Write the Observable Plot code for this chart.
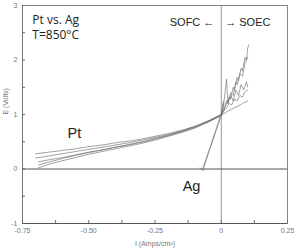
<!DOCTYPE html>
<html><head><meta charset="utf-8">
<script src="https://cdn.jsdelivr.net/npm/d3@7"></script>
<script src="https://cdn.jsdelivr.net/npm/@observablehq/plot@0.6"></script>
<style>body{margin:0;background:#fff} svg{display:block}</style>
</head><body><div id="chart"></div>
<script>
// Pt electrode I–V curves (I in A/cm², E in V)
const ptA = [[-0.70,0.28],[-0.65,0.31],[-0.60,0.34],[-0.55,0.37],[-0.50,0.41],[-0.45,0.44],[-0.40,0.48],[-0.35,0.51],[-0.30,0.55],[-0.25,0.60],[-0.20,0.65],[-0.15,0.71],[-0.10,0.78],[-0.05,0.88],[0,1.0],
  [0.01,1.08],[0.02,1.2],[0.03,1.32],[0.035,1.28],[0.045,1.5],[0.05,1.45],[0.06,1.68],[0.065,1.62],[0.075,1.85],[0.08,1.8],[0.09,2.05],[0.095,2.0],[0.1,2.22],[0.104,2.28]];
const ptB = [[-0.70,0.20],[-0.65,0.24],[-0.60,0.28],[-0.55,0.32],[-0.50,0.36],[-0.45,0.40],[-0.40,0.44],[-0.35,0.48],[-0.30,0.53],[-0.25,0.58],[-0.20,0.63],[-0.15,0.70],[-0.10,0.78],[-0.05,0.88],[0,1.0],
  [0.01,1.1],[0.02,1.25],[0.025,1.2],[0.035,1.4],[0.045,1.35],[0.055,1.6],[0.06,1.55],[0.07,1.75],[0.08,1.7],[0.09,1.95],[0.1,2.05]];
const ptC = [[-0.69,0.13],[-0.65,0.17],[-0.60,0.21],[-0.55,0.26],[-0.50,0.31],[-0.45,0.35],[-0.40,0.40],[-0.35,0.45],[-0.30,0.50],[-0.25,0.56],[-0.20,0.62],[-0.15,0.69],[-0.10,0.77],[-0.05,0.87],[0,0.99],
  [0.005,1.08],[0.012,1.3],[0.02,1.65],[0.025,1.2],[0.035,1.35],[0.045,1.25],[0.055,1.45],[0.065,1.35],[0.075,1.55],[0.085,1.45],[0.095,1.6],[0.1,1.5]];
const ptD = [[-0.69,0.07],[-0.65,0.13],[-0.60,0.19],[-0.55,0.25],[-0.50,0.30],[-0.45,0.35],[-0.40,0.40],[-0.35,0.44],[-0.30,0.49],[-0.25,0.55],[-0.20,0.61],[-0.15,0.68],[-0.10,0.76],[-0.05,0.86],[0,0.98],
  [0.01,1.06],[0.02,1.12],[0.03,1.2],[0.04,1.18],[0.05,1.28],[0.06,1.25],[0.07,1.35],[0.08,1.32],[0.09,1.42],[0.1,1.45]];
const ptE = [[-0.69,0.02],[-0.65,0.09],[-0.60,0.15],[-0.55,0.21],[-0.50,0.27],[-0.45,0.32],[-0.40,0.37],[-0.35,0.42],[-0.30,0.47],[-0.25,0.53],[-0.20,0.60],[-0.15,0.67],[-0.10,0.75],[-0.05,0.86],[0,0.98],
  [0.02,1.05],[0.04,1.1],[0.06,1.15],[0.08,1.2],[0.1,1.25]];
// Ag electrode curves
const agA = [[-0.08,0.02],[-0.072,-0.02],[-0.062,0.12],[-0.03,0.55],[0,0.98],[0.01,1.2]];
const agB = [[-0.068,-0.03],[-0.064,0.05],[-0.035,0.5],[0,1.02],[0.008,1.25]];

const seriesNames = ["Pt 1","Pt 2","Pt 3","Pt 4","Pt 5","Ag 1","Ag 2"];
const seriesPts = [ptA, ptB, ptC, ptD, ptE, agA, agB];

const xTickLabels = [-0.75, -0.5, -0.25, 0, 0.25];
const xMinorTicks = [-0.75,-0.625,-0.5,-0.375,-0.25,-0.125,0,0.125,0.25];
const yTickLabels = [-1, 0, 1, 2, 3];
const yMinorTicks = [-1,-0.5,0,0.5,1,1.5,2,2.5,3];

const notes = [
  {text:"Pt vs. Ag", x:-0.713, y:2.66, kind:"title"},
  {text:"T=850°C", x:-0.713, y:2.38, kind:"title"},
  {text:"SOFC ←", x:-0.026, y:2.63, kind:"left"},
  {text:"→ SOEC", x:0.015, y:2.63, kind:"right"},
  {text:"Pt", x:-0.554, y:0.57, kind:"big"},
  {text:"Ag", x:-0.112, y:-0.40, kind:"big"}
];

const rows = seriesNames.flatMap((name, i) => seriesPts[i].map(([x, y]) => ({series: name, x, y})));
const fmt = d => d === 0 ? "0" : d.toFixed(2);
const tickFont = "Liberation Sans Narrow, Liberation Sans, sans-serif";

const chart = Plot.plot({
  width: 294, height: 250,
  marginLeft: 22, marginRight: 7, marginTop: 5, marginBottom: 27,
  x: {domain: [-0.75, 0.25]},
  y: {domain: [-1, 3]},
  style: {background: "#fff", fontFamily: "Liberation Sans, sans-serif"},
  marks: [
    Plot.ruleX([0], {stroke: "#999", strokeWidth: 1}),
    Plot.ruleY([0], {stroke: "#555", strokeWidth: 1}),
    Plot.frame({stroke: "#888"}),
    Plot.ruleX([-0.75], {stroke: "#777"}),
    Plot.ruleY([-1], {stroke: "#555"}),
    Plot.line(rows, {x: "x", y: "y", z: "series", stroke: "#707070", strokeWidth: 0.65}),
    Plot.axisX({ticks: xTickLabels, tickSize: 0, tickPadding: 5, tickFormat: fmt, fontSize: 7, fill: "#777", fontFamily: tickFont, label: null}),
    Plot.axisX({ticks: xMinorTicks, tickSize: 3, text: null, dy: -3, stroke: "#666", label: null}),
    Plot.axisY({ticks: yTickLabels, tickSize: 0, tickPadding: 5, tickFormat: d => String(d), fontSize: 7, fill: "#777", fontFamily: tickFont, label: null}),
    Plot.axisY({ticks: yMinorTicks, tickSize: 3, text: null, dx: 3, stroke: "#666", label: null}),
    Plot.text(["I (Amps/cm²)"], {frameAnchor: "bottom", dy: 22, lineAnchor: "bottom", fontSize: 7, fill: "#777", fontFamily: tickFont}),
    Plot.text(["E (Volts)"], {frameAnchor: "left", dx: -17, rotate: -90, fontSize: 7, fill: "#777", fontFamily: tickFont}),
    Plot.text(notes.filter(d => d.kind === "title"), {x: "x", y: "y", text: "text", fontSize: 12, textAnchor: "start", lineAnchor: "bottom", fill: "#222", fontFamily: "Open Sans"}),
    Plot.text(notes.filter(d => d.kind === "right"), {x: "x", y: "y", text: "text", fontSize: 11, textAnchor: "start", lineAnchor: "bottom", fill: "#222"}),
    Plot.text(notes.filter(d => d.kind === "left"), {x: "x", y: "y", text: "text", fontSize: 11, textAnchor: "end", lineAnchor: "bottom", fill: "#222"}),
    Plot.text(notes.filter(d => d.kind === "big"), {x: "x", y: "y", text: "text", fontSize: 14.5, textAnchor: "middle", lineAnchor: "bottom", fill: "#222"})
  ]
});
document.getElementById("chart").append(chart);
</script>
</body></html>
